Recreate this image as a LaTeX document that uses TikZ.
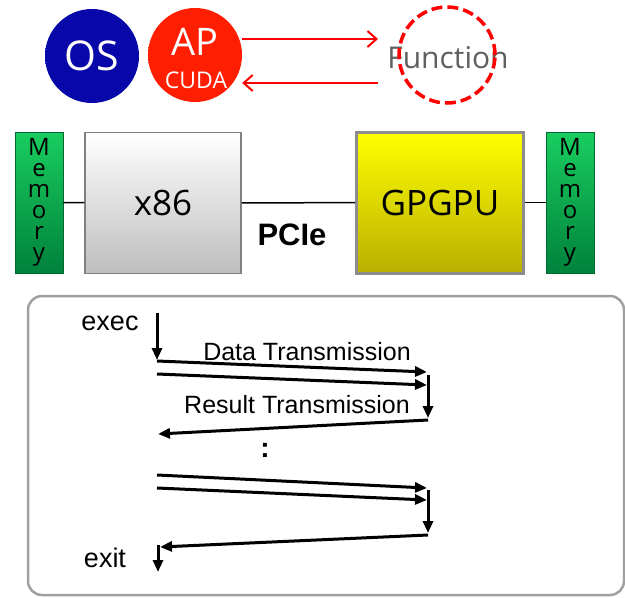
\documentclass[tikz,border=0pt]{standalone}
\usepackage{fontspec}
\setmainfont{Liberation Sans}
\newfontfamily\labelfont{Open Sans}
\usepackage{tikz}
\usetikzlibrary{arrows.meta,positioning,calc}
\definecolor{osblue}{RGB}{8,8,170}
\definecolor{osedge}{RGB}{0,0,95}
\definecolor{apred}{RGB}{255,30,0}
\definecolor{apedge}{RGB}{175,10,0}
\definecolor{memtop}{RGB}{25,205,95}
\definecolor{membottom}{RGB}{0,130,60}
\definecolor{cpubottom}{RGB}{190,190,190}
\definecolor{gputop}{RGB}{255,255,0}
\definecolor{gpubottom}{RGB}{185,175,0}
\definecolor{funcgray}{RGB}{95,95,95}
\definecolor{framegray}{RGB}{160,160,160}
\pgfdeclareradialshading{osshade}{\pgfpoint{0bp}{0bp}}{color(0bp)=(osblue); color(38bp)=(osblue); color(50bp)=(osedge)}
\pgfdeclareradialshading{apshade}{\pgfpoint{0bp}{0bp}}{color(0bp)=(apred); color(38bp)=(apred); color(50bp)=(apedge)}

\begin{document}
\begin{tikzpicture}[x=1pt, y=-1pt, >={Triangle[length=12pt,width=10pt]},
 proc/.style={circle, minimum size=94pt, inner sep=0pt, text=white},
 call/.style={draw=red, line width=2pt, -{Straight Barb[length=9pt,width=16pt]}},
 mem/.style={draw=membottom!80!black, line width=0.8pt, top color=memtop, bottom color=membottom,
   minimum width=48pt, minimum height=141pt, inner sep=0pt, align=center,
   font=\labelfont\fontsize{24}{21}\selectfont},
 chip/.style={minimum height=141pt, inner sep=0pt, font=\labelfont\fontsize{35}{40}\selectfont},
 bus/.style={line width=1.5pt},
 msg/.style={->, line width=3pt},
 lbl/.style={inner sep=0pt, font=\fontsize{25}{30}\selectfont}]
 \useasboundingbox (0,0) rectangle (625,598);
 \node[proc, shading=osshade, font=\labelfont\fontsize{41}{41}\selectfont] (os) at (92,56) {OS};
 \node[proc, shading=apshade] (ap) at (195,55) {};
 \node[text=white, inner sep=0pt, font=\labelfont\fontsize{38}{38}\selectfont] (aptext) at (195,42) {AP};
 \node[text=white, inner sep=0pt, font=\labelfont\fontsize{23}{23}\selectfont] (cudatext) at (196,80) {CUDA};
 \node[text=funcgray, inner sep=0pt, font=\labelfont\fontsize{30}{30}\selectfont] (functext) at (448,58) {Function};
 \node[circle, draw=red, line width=3.5pt, dash pattern=on 11pt off 5pt, minimum size=96pt, inner sep=0pt] (func) at (447,55) {};
 \coordinate (callout) at (378,39);
 \coordinate (callin) at (378,83);
 \draw[call] (ap.east |- callout) -- (callout);
 \draw[call] (callin) -- (ap.east |- callin);

 \node[mem] (memcpu) at (39,202.5) {M\\e\\m\\o\\r\\y};
 \node[chip, draw=gray, line width=1.5pt, top color=white, bottom color=cpubottom, minimum width=156pt] (cpu) at (163,203) {x86};
 \node[chip, draw=gray!90, line width=3pt, top color=gputop, bottom color=gpubottom, minimum width=167pt] (gpu) at (440,202.5) {GPGPU};
 \node[mem] (memgpu) at (570,202.5) {M\\e\\m\\o\\r\\y};
 \draw[bus] (memcpu) -- (cpu);
 \draw[bus] (cpu) -- (gpu);
 \draw[bus] (gpu) -- (memgpu);
 \node[inner sep=0pt, font=\bfseries\fontsize{31}{31}\selectfont] (pcie) at (292,235) {PCIe};

 \node[draw=framegray, line width=2.5pt, rounded corners=14pt, minimum width=596pt, minimum height=299pt] (frame) at (326,445.5) {};
 \node[lbl, font=\fontsize{27}{30}\selectfont] (exec) at (110,323) {exec};
 \node[lbl] (datalabel) at (307,352) {Data Transmission};
 \node[lbl] (resultlabel) at (297,405) {Result Transmission};
 \node[lbl, font=\bfseries\fontsize{28}{30}\selectfont] (dots) at (265,450) {:};
 \node[lbl, font=\fontsize{27}{30}\selectfont] (exit) at (105,558) {exit};
 \coordinate (execstart) at (157,313);
 \coordinate (execend) at (157,360);
 \coordinate (dataout1) at (157,361);
 \coordinate (datain1) at (427,372);
 \coordinate (dataout2) at (157,374);
 \coordinate (datain2) at (427,385);
 \coordinate (gpustart1) at (428,375);
 \coordinate (gpuend1) at (428,418);
 \coordinate (resultout1) at (428,420);
 \coordinate (resultin1) at (158,434);
 \coordinate (dataout3) at (157,475);
 \coordinate (datain3) at (427,488);
 \coordinate (dataout4) at (157,488);
 \coordinate (datain4) at (427,500);
 \coordinate (gpustart2) at (428,490);
 \coordinate (gpuend2) at (428,533);
 \coordinate (resultout2) at (428,535);
 \coordinate (resultin2) at (160,547);
 \coordinate (exitstart) at (158,545);
 \coordinate (exitend) at (158,572);
 \draw[msg] (execstart) -- (execend);
 \draw[msg] (dataout1) -- (datain1);
 \draw[msg] (dataout2) -- (datain2);
 \draw[msg] (gpustart1) -- (gpuend1);
 \draw[msg] (resultout1) -- (resultin1);
 \draw[msg] (dataout3) -- (datain3);
 \draw[msg] (dataout4) -- (datain4);
 \draw[msg] (gpustart2) -- (gpuend2);
 \draw[msg] (resultout2) -- (resultin2);
 \draw[msg] (exitstart) -- (exitend);
\end{tikzpicture}
\end{document}
